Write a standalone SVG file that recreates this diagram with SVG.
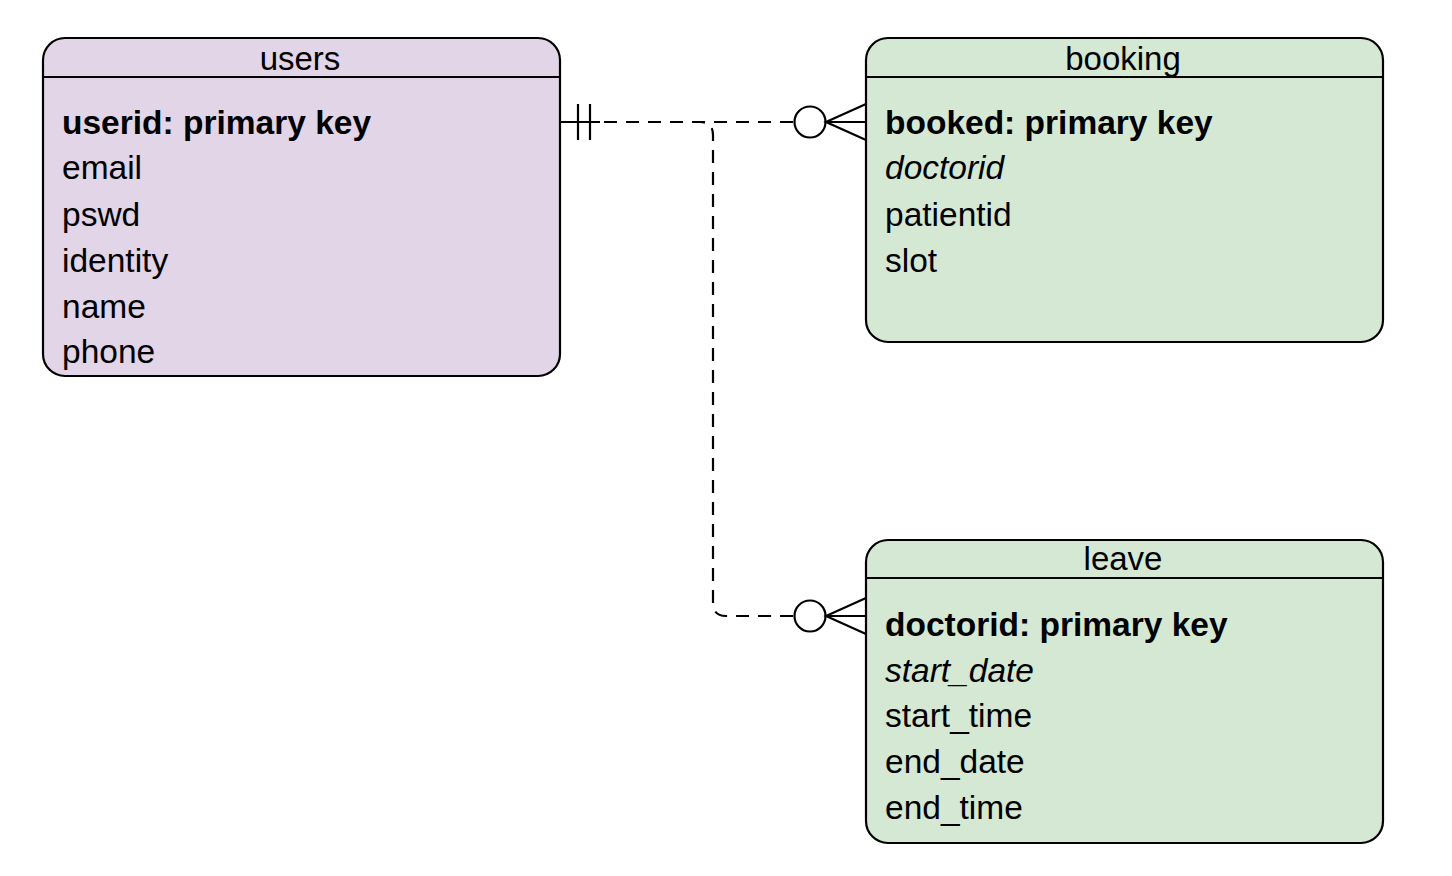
<svg xmlns="http://www.w3.org/2000/svg" width="1452" height="876" viewBox="0 0 1452 876">
<style>
.box{stroke:#000;stroke-width:2.2}
.hd{font-family:"Liberation Sans",Arial,sans-serif;font-size:33px;fill:#000;text-anchor:middle}
.f{font-family:"Liberation Sans",Arial,sans-serif;font-size:33.5px;fill:#000}
.b{font-weight:bold}
.i{font-style:italic}
.ln{fill:none;stroke:#000;stroke-width:2.2}
.d{stroke-dasharray:13 9}
</style>
<rect width="1452" height="876" fill="#fff"/>
<g id="users">
<rect class="box" x="43" y="38" width="517" height="338" rx="22" fill="#e1d5e7"/>
<line class="box" x1="43" y1="77" x2="560" y2="77"/>
<text class="hd" x="300" y="70">users</text>
<text class="f b" x="62" y="134">userid: primary key</text>
<text class="f" x="62" y="179">email</text>
<text class="f" x="62" y="226">pswd</text>
<text class="f" x="62" y="272">identity</text>
<text class="f" x="62" y="318">name</text>
<text class="f" x="62" y="363">phone</text>
</g>
<g id="booking">
<rect class="box" x="866" y="38" width="517" height="304" rx="22" fill="#d5e8d4"/>
<line class="box" x1="866" y1="77" x2="1383" y2="77"/>
<text class="hd" x="1123" y="70">booking</text>
<text class="f b" x="885" y="134">booked: primary key</text>
<text class="f i" x="885" y="179">doctorid</text>
<text class="f" x="885" y="226">patientid</text>
<text class="f" x="885" y="272">slot</text>
</g>
<g id="leave">
<rect class="box" x="866" y="540" width="517" height="303" rx="22" fill="#d5e8d4"/>
<line class="box" x1="866" y1="578" x2="1383" y2="578"/>
<text class="hd" x="1123" y="570">leave</text>
<text class="f b" x="885" y="636">doctorid: primary key</text>
<text class="f i" x="885" y="682">start_date</text>
<text class="f" x="885" y="727">start_time</text>
<text class="f" x="885" y="773">end_date</text>
<text class="f" x="885" y="819">end_time</text>
</g>
<g id="connectors">
<path class="ln d" d="M560 122 H794"/>
<path class="ln d" d="M560 122 H700 Q713 122 713 135 V603 Q713 616 726 616 H794"/>
<line class="ln" x1="560" y1="122" x2="600" y2="122"/>
<line class="ln" x1="578" y1="104" x2="578" y2="140"/>
<line class="ln" x1="590" y1="104" x2="590" y2="140"/>
<circle class="ln" cx="810" cy="122" r="15.5"/>
<path class="ln" d="M866 104 L826 122 L866 140 M826 122 H866"/>
<circle class="ln" cx="810" cy="616" r="15.5"/>
<path class="ln" d="M866 598 L826 616 L866 634 M826 616 H866"/>
</g>
</svg>
